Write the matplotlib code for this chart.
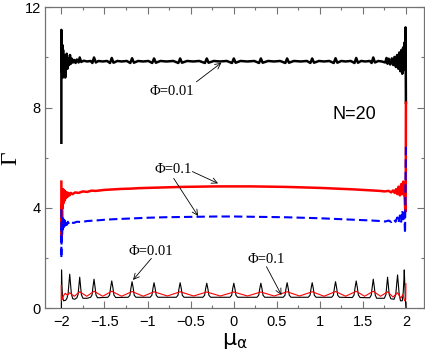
import matplotlib
matplotlib.use("Agg")
import matplotlib.pyplot as plt
from matplotlib.ticker import MultipleLocator

# ---------------- data ----------------
# upper black curve, Phi = 0.01 (averaged)
mu_top = [-2.000, -2.000, -1.997, -1.993, -1.989, -1.985, -1.980, -1.975, -1.970, -1.965, -1.960, -1.955,
          -1.950, -1.945, -1.938, -1.930, -1.920, -1.910, -1.900, -1.890, -1.878, -1.865, -1.850, -1.835,
          -1.820, -1.800, -1.787, -1.770, -1.740, -1.700, -1.660, -1.640, -1.621, -1.600, -1.570, -1.520,
          -1.470, -1.435, -1.415, -1.395, -1.350, -1.300, -1.240, -1.200, -1.179, -1.158, -1.110, -1.050,
          -0.990, -0.945, -0.924, -0.903, -0.850, -0.780, -0.700, -0.642, -0.621, -0.600, -0.540, -0.470,
          -0.400, -0.333, -0.312, -0.291, -0.230, -0.160, -0.080, -0.019, 0.002, 0.023, 0.080, 0.160,
          0.240, 0.295, 0.316, 0.337, 0.400, 0.470, 0.540, 0.600, 0.621, 0.642, 0.700, 0.780,
          0.850, 0.891, 0.912, 0.933, 0.990, 1.050, 1.110, 1.162, 1.183, 1.204, 1.250, 1.300,
          1.360, 1.403, 1.423, 1.443, 1.480, 1.530, 1.580, 1.602, 1.621, 1.640, 1.680, 1.720,
          1.760, 1.775, 1.787, 1.800, 1.818, 1.836, 1.852, 1.868, 1.884, 1.898, 1.912, 1.924,
          1.936, 1.948, 1.958, 1.968, 1.977, 1.985, 1.991, 1.996, 2.000]
gam_top = [6.60, 11.10, 10.70, 9.40, 10.50, 9.20, 10.30, 9.30, 10.10, 9.50, 9.95, 9.20,
           9.90, 9.60, 10.15, 9.55, 9.95, 9.70, 10.10, 9.75, 9.95, 9.80, 9.90, 9.78,
           9.92, 9.80, 10.00, 9.82, 9.87, 9.84, 9.86, 9.78, 10.00, 9.80, 9.86, 9.84,
           9.86, 9.78, 9.98, 9.79, 9.86, 9.84, 9.86, 9.78, 9.97, 9.79, 9.86, 9.84,
           9.86, 9.78, 9.96, 9.79, 9.86, 9.84, 9.86, 9.78, 9.96, 9.79, 9.86, 9.84,
           9.86, 9.78, 9.96, 9.79, 9.86, 9.84, 9.86, 9.78, 9.96, 9.79, 9.86, 9.84,
           9.86, 9.78, 9.96, 9.79, 9.86, 9.84, 9.86, 9.78, 9.96, 9.79, 9.86, 9.84,
           9.86, 9.78, 9.96, 9.79, 9.86, 9.84, 9.86, 9.78, 9.97, 9.79, 9.86, 9.84,
           9.86, 9.78, 9.98, 9.79, 9.86, 9.84, 9.86, 9.78, 10.00, 9.80, 9.86, 9.84,
           9.80, 9.98, 9.75, 9.95, 9.72, 9.96, 9.70, 10.02, 9.62, 10.10, 9.55, 10.20,
           9.45, 10.30, 9.35, 10.40, 9.50, 10.60, 9.60, 11.20, 8.20]

# red curve, Phi = 0.1 (averaged)
mu_red = [-2.000, -2.000, -1.996, -1.992, -1.988, -1.984, -1.979, -1.973, -1.967, -1.960, -1.952, -1.944,
          -1.936, -1.928, -1.918, -1.905, -1.890, -1.870, -1.840, -1.800, -1.750, -1.700, -1.650, -1.600,
          -1.500, -1.400, -1.300, -1.200, -1.100, -1.000, -0.800, -0.600, -0.400, -0.200, 0.000, 0.200,
          0.400, 0.600, 0.800, 1.000, 1.200, 1.400, 1.500, 1.600, 1.700, 1.750, 1.800, 1.830,
          1.850, 1.870, 1.885, 1.900, 1.915, 1.930, 1.945, 1.958, 1.968, 1.978, 1.986, 1.993,
          1.998, 2.000]
gam_red = [5.05, 2.70, 4.10, 3.60, 4.70, 4.00, 4.75, 4.20, 4.70, 4.30, 4.65, 4.40,
           4.62, 4.45, 4.60, 4.50, 4.60, 4.55, 4.62, 4.60, 4.66, 4.64, 4.69, 4.68,
           4.72, 4.74, 4.76, 4.77, 4.79, 4.80, 4.82, 4.84, 4.85, 4.86, 4.86, 4.86,
           4.85, 4.84, 4.82, 4.80, 4.77, 4.74, 4.72, 4.70, 4.68, 4.66, 4.68, 4.62,
           4.70, 4.60, 4.75, 4.55, 4.85, 4.50, 4.95, 4.55, 5.05, 4.60, 4.40, 3.85,
           4.60, 8.20]

# blue dashed curve, Phi = 0.1
mu_blue = [-2.000, -2.000, -1.996, -1.991, -1.986, -1.981, -1.975, -1.969, -1.962, -1.955, -1.946, -1.936,
           -1.925, -1.910, -1.890, -1.860, -1.820, -1.760, -1.700, -1.600, -1.500, -1.400, -1.200, -1.000,
           -0.800, -0.600, -0.400, -0.200, 0.000, 0.200, 0.400, 0.600, 0.800, 1.000, 1.200, 1.400,
           1.600, 1.700, 1.760, 1.800, 1.830, 1.860, 1.880, 1.900, 1.915, 1.930, 1.945, 1.958,
           1.970, 1.980, 1.990, 2.000]
gam_blue = [3.95, 2.00, 3.20, 2.90, 3.60, 3.15, 3.55, 3.25, 3.50, 3.30, 3.48, 3.33,
            3.45, 3.36, 3.44, 3.40, 3.45, 3.44, 3.48, 3.50, 3.53, 3.55, 3.58, 3.61,
            3.63, 3.64, 3.65, 3.66, 3.66, 3.65, 3.64, 3.63, 3.61, 3.59, 3.56, 3.53,
            3.50, 3.48, 3.46, 3.50, 3.44, 3.55, 3.45, 3.62, 3.42, 3.70, 3.45, 3.90,
            3.55, 3.80, 3.00, 6.50]

# lower black curve, Phi = 0.01 (single realisation)
mu_bk = [-2.000, -1.998, -1.993, -1.986, -1.975, -1.950, -1.935, -1.922, -1.912, -1.903, -1.894, -1.884,
         -1.868, -1.845, -1.820, -1.806, -1.796, -1.787, -1.778, -1.768, -1.750, -1.700, -1.660, -1.644,
         -1.633, -1.621, -1.609, -1.598, -1.580,
         -1.460, -1.440, -1.428, -1.415, -1.402, -1.390, -1.370,
         -1.224, -1.204, -1.192, -1.179, -1.166, -1.154, -1.134,
         -0.969, -0.949, -0.937, -0.924, -0.911, -0.899, -0.879,
         -0.666, -0.646, -0.634, -0.621, -0.608, -0.596, -0.576,
         -0.357, -0.337, -0.325, -0.312, -0.299, -0.287, -0.267,
         -0.043, -0.023, -0.011, 0.002, 0.015, 0.027, 0.047,
         0.271, 0.291, 0.303, 0.316, 0.329, 0.341, 0.361,
         0.576, 0.596, 0.608, 0.621, 0.634, 0.646, 0.666,
         0.867, 0.887, 0.899, 0.912, 0.925, 0.937, 0.957,
         1.138, 1.158, 1.170, 1.183, 1.196, 1.208, 1.228,
         1.378, 1.398, 1.410, 1.423, 1.436, 1.448, 1.468,
         1.580, 1.598, 1.609, 1.621, 1.633, 1.644, 1.660, 1.750, 1.768, 1.778, 1.787, 1.796,
         1.806, 1.825, 1.862, 1.882, 1.893, 1.903, 1.912, 1.922, 1.937, 1.958, 1.969, 1.976,
         1.981, 1.987, 1.993, 2.000]
gam_bk = [0.02, 1.53, 0.90, 0.45, 0.30, 0.32, 0.40, 0.58, 0.98, 1.36, 0.98, 0.58,
          0.38, 0.36, 0.42, 0.55, 0.90, 1.24, 0.90, 0.55, 0.40, 0.40, 0.44, 0.53,
          0.85, 1.16, 0.85, 0.53, 0.42,
          0.44, 0.53, 0.83, 1.09, 0.83, 0.53, 0.43,
          0.44, 0.52, 0.81, 1.06, 0.81, 0.52, 0.44,
          0.44, 0.52, 0.79, 1.02, 0.79, 0.52, 0.44,
          0.44, 0.52, 0.79, 1.02, 0.79, 0.52, 0.44,
          0.44, 0.52, 0.78, 1.00, 0.78, 0.52, 0.44,
          0.44, 0.52, 0.78, 1.00, 0.78, 0.52, 0.44,
          0.44, 0.52, 0.78, 1.00, 0.78, 0.52, 0.44,
          0.44, 0.52, 0.79, 1.02, 0.79, 0.52, 0.44,
          0.44, 0.52, 0.79, 1.02, 0.79, 0.52, 0.44,
          0.44, 0.52, 0.81, 1.06, 0.81, 0.52, 0.44,
          0.43, 0.53, 0.83, 1.09, 0.83, 0.53, 0.43,
          0.42, 0.53, 0.85, 1.16, 0.85, 0.53, 0.40, 0.40, 0.55, 0.90, 1.24, 0.90,
          0.55, 0.38, 0.36, 0.55, 0.98, 1.33, 0.98, 0.55, 0.30, 0.30, 0.65, 1.10,
          1.53, 1.00, 0.40, 0.00]

# lower red curve, Phi = 0.1 (single realisation)
mu_rd = [-2.000, -2.000, -1.996, -1.990, -1.975, -1.955, -1.930, -1.903, -1.850, -1.787, -1.705, -1.621,
         -1.520, -1.415, -1.300, -1.179, -1.050, -0.924, -0.770, -0.621, -0.465, -0.312, -0.155, 0.002,
         0.160, 0.316, 0.470, 0.621, 0.765, 0.912, 1.050, 1.183, 1.300, 1.423, 1.520, 1.621,
         1.705, 1.787, 1.850, 1.903, 1.940, 1.965, 1.985, 1.998, 2.000]
gam_rd = [0.30, 0.92, 0.55, 0.35, 0.50, 0.60, 0.52, 0.62, 0.48, 0.66, 0.48, 0.68,
          0.48, 0.68, 0.48, 0.67, 0.48, 0.66, 0.49, 0.66, 0.49, 0.65, 0.49, 0.65,
          0.49, 0.65, 0.49, 0.66, 0.49, 0.66, 0.48, 0.67, 0.48, 0.68, 0.48, 0.68,
          0.48, 0.66, 0.45, 0.62, 0.40, 0.55, 0.30, 0.35, 0.98]

x_ticks = [-2, -1.5, -1, -0.5, 0, 0.5, 1, 1.5, 2]
x_tick_labels = ["-2", "-1.5", "-1", "-0.5", "0", "0.5", "1", "1.5", "2"]
y_ticks = [0, 4, 8, 12]
y_tick_labels = ["0", "4", "8", "12"]

# ---------------- figure ----------------
plt.rcParams['mathtext.fontset'] = 'stix'
plt.rcParams['mathtext.default'] = 'regular'
W, H = 425, 354
fig = plt.figure(figsize=(W / 100, H / 100), dpi=100)
ax = fig.add_axes([45 / W, 1 - 308.3 / H, 379 / W, 301 / H])

ax.plot(mu_top, gam_top, color='black', lw=1.8, solid_joinstyle='round')
ax.plot(mu_red, gam_red, color='#ff0000', lw=1.8)
ax.plot(mu_blue, gam_blue, color='#0000ff', lw=1.5, dashes=(4, 2))
ax.plot(mu_bk, gam_bk, color='black', lw=0.8)
ax.plot(mu_rd, gam_rd, color='#ff0000', lw=0.8)

ax.set_xlim(-2.19, 2.21)
ax.set_ylim(0, 12)
ax.set_xticks(x_ticks)
ax.set_xticklabels([s.replace('-', '\u2212') for s in x_tick_labels])
ax.set_yticks(y_ticks)
ax.set_yticklabels(y_tick_labels)
ax.xaxis.set_minor_locator(MultipleLocator(0.25))
ax.yaxis.set_minor_locator(MultipleLocator(2))

frame = '0.45'
for s in ax.spines.values():
    s.set_color(frame)
    s.set_linewidth(0.9)
ax.tick_params(which='both', direction='in', top=True, right=True, color=frame,
               labelsize=10.5, labelcolor='black')
ax.tick_params(which='major', length=5, width=0.8)
ax.tick_params(which='minor', length=2.5, width=0.8)
ax.tick_params(axis='x', pad=5)
ax.tick_params(axis='y', pad=3)
for lab in ax.get_xticklabels() + ax.get_yticklabels():
    lab.set_family('Liberation Sans')

ax.set_ylabel('Γ', family='Liberation Serif', fontsize=17, labelpad=2)
ax.set_xlabel(r'$\mu_\alpha$', fontsize=16, labelpad=1)

serif = dict(family='Liberation Serif', fontsize=10.5, ha='center', va='center')
arr = dict(arrowstyle='->', color='black', lw=0.6, shrinkA=0, shrinkB=0)

ax.text(-0.716, 8.64, 'Φ=0.01', **serif)
ax.annotate('', xy=(-0.142, 9.79), xytext=(-0.432, 9.03), arrowprops=arr)

ax.text(-0.704, 5.55, 'Φ=0.1', **serif)
ax.annotate('', xy=(-0.181, 4.98), xytext=(-0.479, 5.45), arrowprops=arr)
ax.annotate('', xy=(-0.413, 3.68), xytext=(-0.696, 5.18), arrowprops=arr)

ax.text(-0.966, 2.28, 'Φ=0.01', **serif)
ax.annotate('', xy=(-1.168, 1.13), xytext=(-0.955, 1.99), arrowprops=arr)

ax.text(0.381, 1.93, 'Φ=0.1', **serif)
ax.annotate('', xy=(0.555, 0.53), xytext=(0.381, 1.66), arrowprops=arr)

ax.text(1.406, 7.71, 'N=20', family='Liberation Sans', fontsize=13, ha='center', va='center')

fig.savefig('out.png', dpi=100)
